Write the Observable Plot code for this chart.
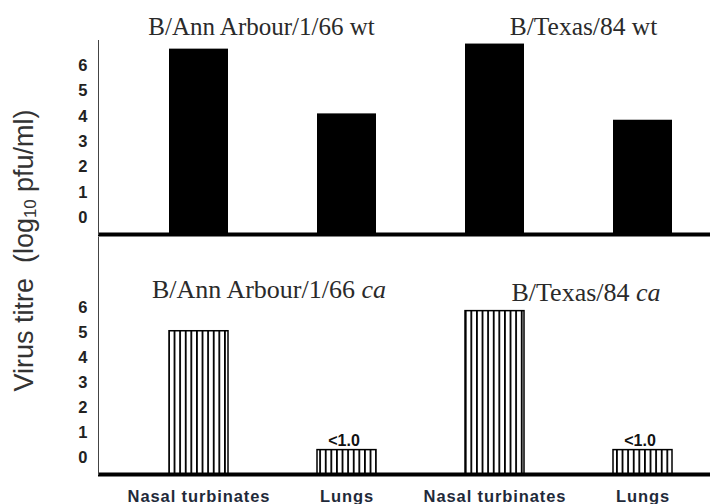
<!DOCTYPE html>
<html>
<head>
<meta charset="utf-8">
<script src="https://cdn.jsdelivr.net/npm/d3@7"></script>
<script src="https://cdn.jsdelivr.net/npm/@observablehq/plot@0.6"></script>
<style>
  html, body { margin: 0; padding: 0; background: #fff; }
  #chart { position: relative; width: 710px; height: 504px; overflow: hidden; background: #fff; }
  #top { position: absolute; left: 0; top: 0; }
  #bottom { position: absolute; left: 0; top: 237px; }
  #ytitle {
    position: absolute; width: 380px; height: 27px; left: -166.5px; top: 236.5px;
    transform: rotate(-90deg); transform-origin: 50% 50%;
    font-family: "Liberation Sans", Arial, sans-serif; font-size: 27px; line-height: 27px;
    color: #333; text-align: center; white-space: nowrap;
  }
  #ytitle sub { font-size: 0.62em; vertical-align: -0.2em; line-height: 0; }
</style>
</head>
<body>
<div id="chart">
  <div id="top"></div>
  <div id="bottom"></div>
  <div id="ytitle">Virus titre&nbsp; (log<sub>10</sub> pfu/ml)</div>
</div>
<script>
// ---- data ----
const categories = ["Nasal turbinates", "Lungs", "Nasal turbinates", "Lungs"];
const strains = ["B/Ann Arbour/1/66", "B/Ann Arbour/1/66", "B/Texas/84", "B/Texas/84"];
const wtTitre = [6.65, 4.1, 6.85, 3.85];
const caTitre = [5.05, 0.32, 5.85, 0.32];
const caNotes = ["", "<1.0", "", "<1.0"];
const yTicks = [0, 1, 2, 3, 4, 5, 6];
const topTitles = ["B/Ann Arbour/1/66 wt", "B/Texas/84 wt"];
const bottomTitles = ["B/Ann Arbour/1/66 ca", "B/Texas/84 ca"];
const BASE = -0.65; // bars rise from below the 0 label

const rows = categories.map((c, i) => ({
  key: strains[i] + "|" + c, cat: c, strain: strains[i],
  wt: wtTitre[i], ca: caTitre[i], note: caNotes[i]
}));
const keys = rows.map(d => d.key);

const FONT = "'Liberation Sans', Arial, sans-serif";
const SERIF = "'Liberation Serif', 'Times New Roman', serif";

const xScale = (axis) => ({
  domain: keys, paddingInner: 0.6, paddingOuter: 0.364, align: 0.65,
  axis, tickFormat: k => k.split("|")[1]
});

const yAxis = () => Plot.axisY(yTicks, {
  tickSize: 0, tickPadding: 11, fontSize: 16.5, fontWeight: "bold", fill: "#222", label: null
});

function titleMark(row, text, dx, dy, size) {
  return Plot.text([{ key: row.key, t: text }], {
    x: "key", text: "t", frameAnchor: "top", lineAnchor: "bottom",
    dx, dy, fontSize: size, fontFamily: SERIF, fill: "#2a2a2a"
  });
}

// ---- top panel (wild type) ----
const topPlot = Plot.plot({
  width: 710, height: 237,
  marginTop: 40, marginBottom: 3, marginLeft: 98, marginRight: 0,
  style: { fontFamily: FONT, background: "#fff", overflow: "visible" },
  x: xScale(null),
  y: { domain: [BASE, 6.99], axis: null },
  marks: [
    Plot.barY(rows, { x: "key", y1: BASE, y2: "wt", fill: "#000", inset: 0 }),
    Plot.ruleY([BASE], { stroke: "#000", strokeWidth: 4 }),
    Plot.frame({ anchor: "left", stroke: "#444" }),
    yAxis(),
    titleMark(rows[0], topTitles[0], 62.5, -6, 25),
    titleMark(rows[2], topTitles[1], 88.5, -6, 25.5)
  ]
});

// ---- bottom panel (cold adapted) ----
const bottomPlot = Plot.plot({
  width: 710, height: 267,
  marginTop: 0, marginBottom: 30, marginLeft: 98, marginRight: 0,
  style: { fontFamily: FONT, background: "#fff", overflow: "visible" },
  x: xScale(null),
  y: { domain: [BASE, 8.78], axis: null },
  marks: [
    Plot.barY(rows, { x: "key", y1: BASE, y2: "ca", fill: "url(#vstripes)", stroke: "#000", strokeWidth: 1.5, inset: 0 }),
    Plot.ruleY([BASE], { stroke: "#000", strokeWidth: 4 }),
    Plot.frame({ anchor: "left", stroke: "#444" }),
    yAxis(),
    Plot.axisX({ tickSize: 0, tickPadding: 16, fontSize: 16.5, fontWeight: "bold", fill: "#1f2a3a", label: null, tickFormat: k => k.split("|")[1] }),
    Plot.text(rows.filter(d => d.note), { x: "key", y: "ca", text: "note", lineAnchor: "bottom", dy: -4, dx: -3, fontSize: 16, fontWeight: "bold", fill: "#111" }),
    titleMark(rows[0], bottomTitles[0], 70, 60, 26),
    titleMark(rows[2], bottomTitles[1], 91, 63, 26)
  ]
});

// stripe pattern for the ca bars
const defs = d3.select(bottomPlot).insert("defs", ":first-child");
const pat = defs.append("pattern").attr("id", "vstripes")
  .attr("patternUnits", "userSpaceOnUse").attr("width", 5.6).attr("height", 10);
pat.append("rect").attr("width", 5.6).attr("height", 10).attr("fill", "#fff");
pat.append("rect").attr("x", 0).attr("width", 1.8).attr("height", 10).attr("fill", "#000");

// italic "ca"
d3.select(bottomPlot).selectAll("text").each(function () {
  const t = this.textContent;
  if (this.childElementCount === 0 && t.endsWith(" ca")) {
    this.textContent = t.slice(0, -2);
    d3.select(this).append("tspan").attr("font-style", "italic").text("ca");
  }
});

// the category labels in the reference are widely spaced
d3.select(bottomPlot).selectAll('g[aria-label="x-axis tick label"] text')
  .style("letter-spacing", "0.9px");

document.getElementById("top").appendChild(topPlot);
document.getElementById("bottom").appendChild(bottomPlot);
</script>
</body>
</html>
